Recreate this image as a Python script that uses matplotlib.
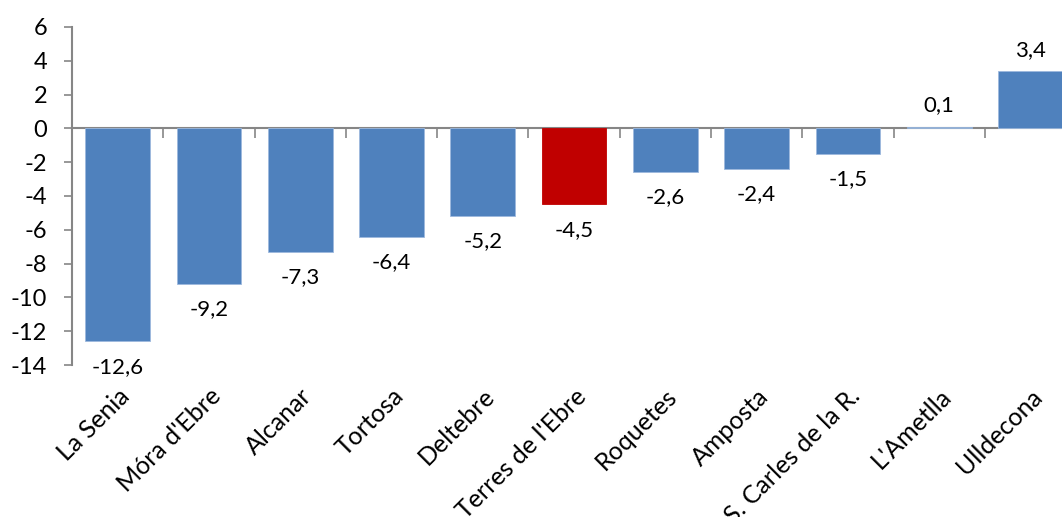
import numpy as np
import matplotlib
matplotlib.use("Agg")
import matplotlib.pyplot as plt

# data
municipis = ["La Senia", "Móra d'Ebre", "Alcanar", "Tortosa", "Deltebre",
             "Terres de l'Ebre", "Roquetes", "Amposta", "S. Carles de la R.",
             "L'Ametlla", "Ulldecona"]
variacio = [-12.6, -9.2, -7.3, -6.4, -5.2, -4.5, -2.6, -2.4, -1.5, 0.1, 3.4]
destacat = "Terres de l'Ebre"

plt.rcParams['font.family'] = ['Lato', 'DejaVu Sans']
plt.rcParams['axes.unicode_minus'] = False

blue = "#4F81BD"
red = "#C00000"
grey = "#868686"
fs = 16

fig = plt.figure(figsize=(10.62, 5.17), dpi=100)
ax = fig.add_axes([0.0678, 0.294, 0.9455, 0.654])

x = np.arange(len(municipis))
colors = [red if m == destacat else blue for m in municipis]
edges = [red if m == destacat else "#9DB9DE" for m in municipis]
ax.bar(x, variacio, width=0.71, color=colors, edgecolor=edges,
       linewidth=0.6, zorder=2)

# value labels, comma as decimal separator
for xi, v in zip(x, variacio):
    txt = f"{v:.1f}".replace(".", ",")
    if v < 0:
        ax.annotate(txt, (xi, v), xytext=(0, -11), textcoords="offset points",
                    ha="center", va="top", fontsize=fs)
    else:
        ax.annotate(txt, (xi, v), xytext=(0, 8), textcoords="offset points",
                    ha="center", va="bottom", fontsize=fs)

ax.set_ylim(-14, 6)
ax.set_xlim(-0.5, len(municipis) - 0.5)
ax.set_yticks(np.arange(-14, 7, 2))
ax.tick_params(axis="y", labelsize=17, length=6, width=1.2, color=grey, pad=12)

# category labels at the bottom, no marks
ax.set_xticks(x)
ax.set_xticklabels(municipis, rotation=45, ha="right", rotation_mode="anchor",
                   fontsize=18)
ax.tick_params(axis="x", length=0, pad=14)

for s in ["top", "right", "bottom"]:
    ax.spines[s].set_visible(False)
ax.spines["left"].set_color(grey)
ax.spines["left"].set_linewidth(1.5)

# zero axis with ticks between categories
zero_pos = (0 - (-14)) / (6 - (-14))
ax0 = ax.secondary_xaxis(zero_pos)
ax0.set_xticks(np.arange(-0.5, len(municipis), 1.0))
ax0.set_xticklabels([])
ax0.xaxis.set_ticks_position("bottom")
ax0.tick_params(length=7, width=1.2, color=grey, direction="out")
for s in ax0.spines.values():
    s.set_color(grey)
    s.set_linewidth(1.5)
    s.set_zorder(3)

fig.savefig("out.png", dpi=100)
